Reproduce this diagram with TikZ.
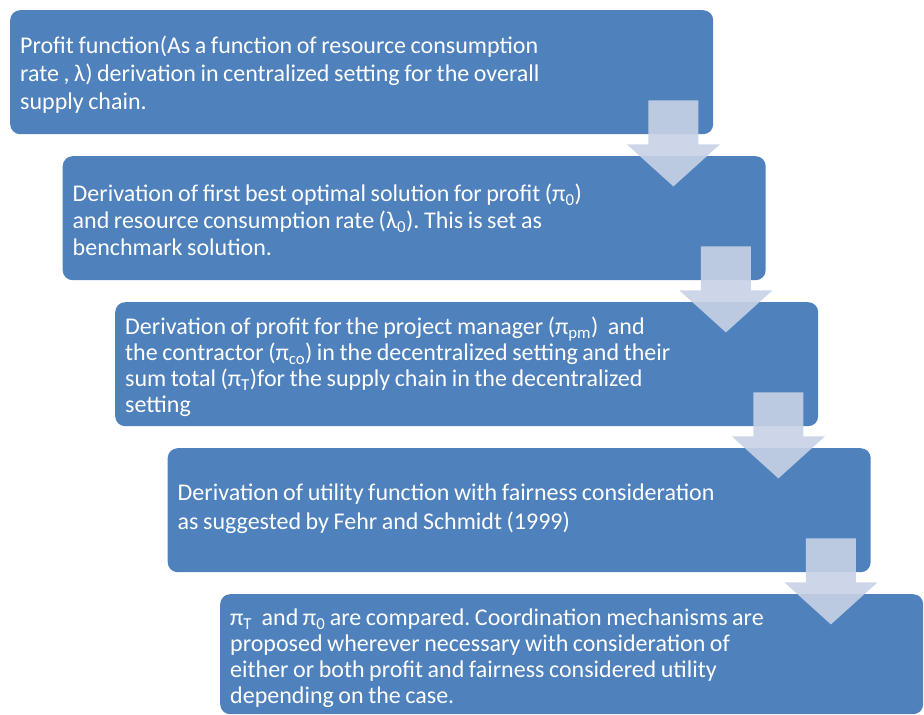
\documentclass[tikz,border=0pt]{standalone}
\usepackage{fontspec}
\setmainfont{Carlito}
\usetikzlibrary{calc}

\definecolor{stageblue}{RGB}{79,129,189}
\definecolor{arrowfill}{RGB}{199,210,230}

\tikzset{
  stage/.style={fill=stageblue, rounded corners=10pt, anchor=north west,
    minimum width=703pt, minimum height=124pt, inner sep=0pt},
  stagetext/.style={anchor=west, text width=683pt, inner xsep=10pt,
    inner ysep=0pt, align=left, text=white,
    font=\fontsize{24}{#1}\selectfont,
    execute at begin node={\frenchspacing\spaceskip=.19em\relax}},
  stagetext/.default=28,
  flowarrow/.style={fill=arrowfill, fill opacity=0.9}
}

\newcommand\sub[1]{\textsubscript{#1}}
% block arrow hanging from the lower right part of a stage box
\newcommand\stagearrow[1]{%
  \fill[flowarrow]
    ($(#1.south east)+(-65,-34)$) -- ($(#1.south east)+(-15,-34)$)
    -- ($(#1.south east)+(-15,10)$) -- ($(#1.south east)+(6.5,10)$)
    -- ($(#1.south east)+(-40,52)$) -- ($(#1.south east)+(-86.5,10)$)
    -- ($(#1.south east)+(-65,10)$) -- cycle;}

\begin{document}
\begin{tikzpicture}[x=1pt, y=-1pt]
\useasboundingbox (0,0) rectangle (924,715);

% the five stage boxes
\node[stage] (s1) at (10,10) {};
\node[stage] (s2) at (62.5,156) {};
\node[stage] (s3) at (115,302) {};
\node[stage] (s4) at (167.5,448) {};
\node[stage, minimum height=120pt] (s5) at (220,594) {};

% their texts
\node[stagetext=28] (t1) at ($(s1.west)+(0,2.5)$)
  {Profit function(As a function of resource consumption\\
   rate , λ) derivation in centralized setting for the overall\\
   supply chain.};
\node[stagetext=27] (t2) at ($(s2.west)+(0,2)$)
  {Derivation of first best optimal solution for profit (π\sub{0})\\
   and resource consumption rate (λ\sub{0}). This is set as\\
   benchmark solution.};
\node[stagetext=26] (t3) at ($(s3.west)+(0,2.5)$)
  {Derivation of profit for the project manager (π\sub{pm})\hspace{5pt} and\\
   the contractor (π\sub{co}) in the decentralized setting and their\\
   sum total (π\sub{T})for the supply chain in the decentralized\\
   setting};
\node[stagetext=29] (t4) at ($(s4.west)+(0,-1)$)
  {Derivation of utility function with fairness consideration\\
   as suggested by Fehr and Schmidt (1999)};
\node[stagetext=26] (t5) at ($(s5.west)+(0,4.5)$)
  {π\sub{T}\hspace{5pt} and π\sub{0} are compared. Coordination mechanisms are\\
   proposed wherever necessary with consideration of\\
   either or both profit and fairness considered utility\\
   depending on the case.};

% arrows leading from each stage to the next
\stagearrow{s1}
\stagearrow{s2}
\stagearrow{s3}
\stagearrow{s4}
\end{tikzpicture}
\end{document}
